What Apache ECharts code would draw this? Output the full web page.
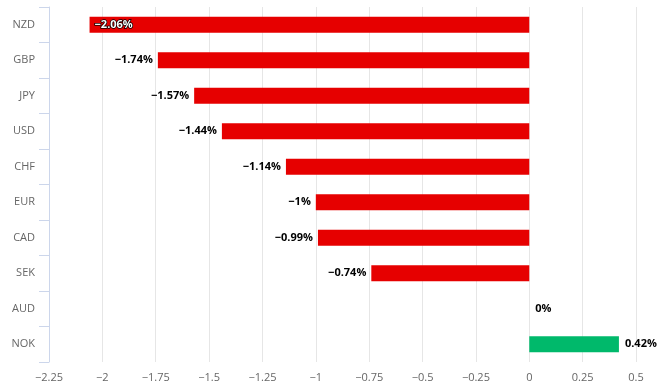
<!DOCTYPE html>
<html><head><meta charset="utf-8">
<script src="https://cdn.jsdelivr.net/npm/echarts@6/dist/echarts.min.js"></script>
<style>html,body{margin:0;padding:0;background:#fff}#c{width:659px;height:392px}</style>
</head><body><div id="c"></div>
<script>
const categories = ["NZD","GBP","JPY","USD","CHF","EUR","CAD","SEK","AUD","NOK"];
const values = [-2.06,-1.74,-1.57,-1.44,-1.14,-1,-0.99,-0.74,0,0.42];
const xTicks = {min:-2.25, max:0.5, step:0.25};
const negColor = '#e60000', posColor = '#00b96b';
const FONT = '"Open Sans", sans-serif';
const fmt = v => (v < 0 ? '\u2212' + String(Math.abs(v)) : String(v));
const chart = echarts.init(document.getElementById('c'));
const data = values.map((v, i) => {
  let label;
  if (i === 0) {
    label = {position:'insideLeft', distance:5, color:'#fff', textBorderColor:'#000', textBorderWidth:1.5};
  } else if (v < 0) {
    label = {position:'left', distance:5};
  } else {
    label = {position:'right', distance:6};
  }
  return {value:v, itemStyle:{color: v > 0 ? posColor : negColor}, label};
});
chart.setOption({
  animation:false,
  grid:{left:49, right:23, top:7, bottom:30, containLabel:false},
  xAxis:{type:'value', min:xTicks.min, max:xTicks.max, interval:xTicks.step,
    axisLine:{show:false}, axisTick:{show:false},
    splitLine:{lineStyle:{color:'#e6e6e6'}},
    axisLabel:{color:'#666', fontSize:11, fontFamily:FONT, margin:10, formatter:fmt}},
  yAxis:{type:'category', data:categories, inverse:true, position:'left',
    axisLine:{onZero:false, lineStyle:{color:'#ccd6eb'}},
    axisTick:{show:true, length:10, lineStyle:{color:'#ccd6eb'}},
    axisLabel:{color:'#666', fontSize:11, fontFamily:FONT, margin:14}},
  series:[{type:'bar', data, barWidth:16,
    label:{show:true, fontSize:11, fontWeight:'bold', fontFamily:FONT, color:'#000',
      formatter:p => fmt(p.value) + '%'}}]
});
</script></body></html>
